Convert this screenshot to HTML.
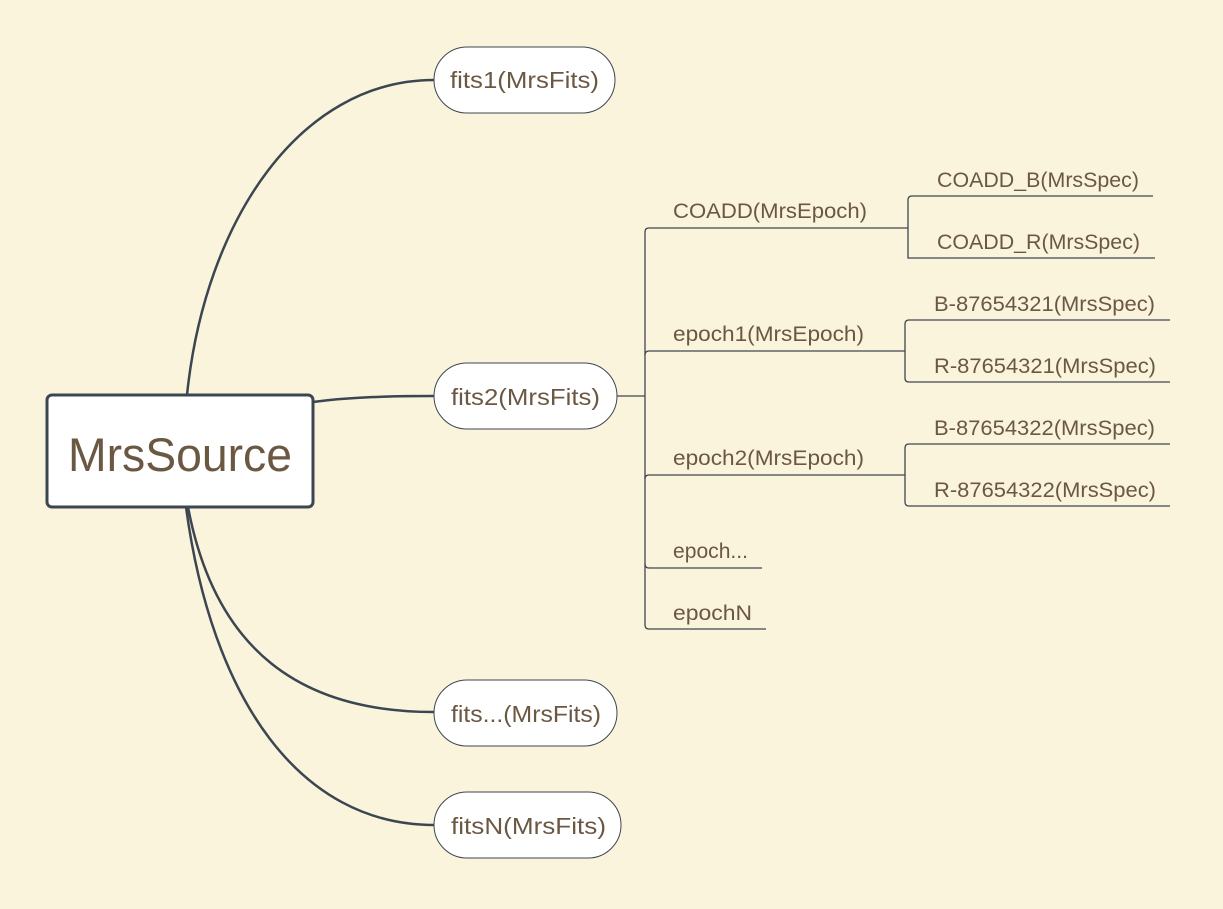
<!DOCTYPE html>
<html><head><meta charset="utf-8"><style>
html,body{margin:0;padding:0;background:#fbf4dd;}
svg{display:block}
text{font-family:"Liberation Sans","DejaVu Sans",sans-serif;fill:#6b5843;}
</style></head><body>
<svg width="1223" height="909" viewBox="0 0 1223 909" xmlns="http://www.w3.org/2000/svg">
<rect width="1223" height="909" fill="#fbf4dd"/>
<g fill="none" stroke="#3c4650" stroke-width="2.5">
<path d="M187,395 C205,220 300,80 434,80"/>
<path d="M313,402 C350,397 390,396 434,396"/>
<path d="M188,507 C215,650 300,712 434,712"/>
<path d="M186,507 C212,700 300,825 434,825"/>
</g>
<g fill="none" stroke="#3c4650" stroke-width="1.3">
<path d="M617,396 H645"/>
<path d="M880,228 H649 Q645,228 645,232 V625 Q645,629 649,629 H766"/>
<path d="M645,355 Q645,351 649,351 H905"/>
<path d="M645,479 Q645,475 649,475 H905"/>
<path d="M645,564 Q645,568 649,568 H762"/>
<path d="M880,228 H908"/>
<path d="M1153,196 H912 Q908,196 908,200 V258 H1155"/>
<path d="M1170,320 H909 Q905,320 905,324 V378 Q905,382 909,382 H1170"/>
<path d="M1170,444 H909 Q905,444 905,448 V502 Q905,506 909,506 H1170"/>
</g>
<rect x="47" y="395" width="266" height="112" rx="5" fill="#fff" stroke="#3c4650" stroke-width="3"/>
<text x="68" y="471" font-size="47" textLength="224" lengthAdjust="spacingAndGlyphs">MrsSource</text>
<g fill="#fff" stroke="#3c4650" stroke-width="1">
<rect x="434" y="47" width="181" height="66" rx="33"/>
<rect x="434" y="363" width="183" height="66" rx="33"/>
<rect x="434" y="680" width="183" height="66" rx="33"/>
<rect x="434" y="792" width="187" height="66" rx="33"/>
</g>
<g font-size="23" lengthAdjust="spacingAndGlyphs">
<text x="450" y="88" textLength="149" lengthAdjust="spacingAndGlyphs">fits1(MrsFits)</text>
<text x="451" y="405" textLength="149" lengthAdjust="spacingAndGlyphs">fits2(MrsFits)</text>
<text x="451" y="722" textLength="150" lengthAdjust="spacingAndGlyphs">fits...(MrsFits)</text>
<text x="451" y="834" textLength="155" lengthAdjust="spacingAndGlyphs">fitsN(MrsFits)</text>
</g>
<g font-size="21">
<text x="673" y="218" textLength="194" lengthAdjust="spacingAndGlyphs">COADD(MrsEpoch)</text>
<text x="673" y="341" textLength="191" lengthAdjust="spacingAndGlyphs">epoch1(MrsEpoch)</text>
<text x="673" y="465" textLength="191" lengthAdjust="spacingAndGlyphs">epoch2(MrsEpoch)</text>
<text x="673" y="558" textLength="75" lengthAdjust="spacingAndGlyphs">epoch...</text>
<text x="673" y="620" textLength="79" lengthAdjust="spacingAndGlyphs">epochN</text>
<text x="937" y="187" textLength="202" lengthAdjust="spacingAndGlyphs">COADD_B(MrsSpec)</text>
<text x="937" y="249" textLength="203" lengthAdjust="spacingAndGlyphs">COADD_R(MrsSpec)</text>
<text x="934" y="311" textLength="221" lengthAdjust="spacingAndGlyphs">B-87654321(MrsSpec)</text>
<text x="934" y="373" textLength="222" lengthAdjust="spacingAndGlyphs">R-87654321(MrsSpec)</text>
<text x="934" y="435" textLength="221" lengthAdjust="spacingAndGlyphs">B-87654322(MrsSpec)</text>
<text x="934" y="497" textLength="222" lengthAdjust="spacingAndGlyphs">R-87654322(MrsSpec)</text>
</g>
</svg>
</body></html>
